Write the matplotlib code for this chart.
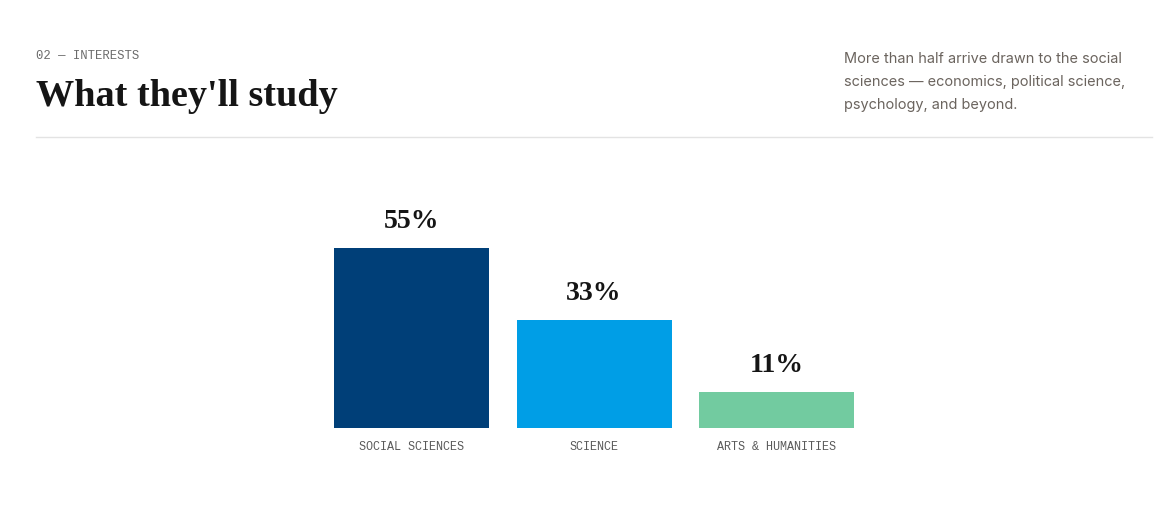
import matplotlib
matplotlib.use("Agg")
import matplotlib.pyplot as plt
from matplotlib.lines import Line2D

categories = ["SOCIAL SCIENCES", "SCIENCE", "ARTS & HUMANITIES"]
values = [55, 33, 11]
value_labels = ["55%", "33%", "11%"]
colors = ["#003f78", "#009ee6", "#72cba0"]

eyebrow = "02 — INTERESTS"
title = "What they'll study"
description = ["More than half arrive drawn to the social",
               "sciences — economics, political science,",
               "psychology, and beyond."]

W, H = 1162, 515
fig = plt.figure(figsize=(W / 100, H / 100), dpi=100)
fig.patch.set_facecolor("white")

def fx(px):
    return px / W

def fy(py):
    return 1 - py / H

# header
fig.text(fx(36), fy(56), eyebrow, family="Liberation Mono", fontsize=8.8,
         color="#6b6b6b", va="center", ha="left")
fig.text(fx(36), fy(106), title, family="Liberation Serif", fontweight="bold",
         fontsize=27.5, color="#151515", va="baseline", ha="left")
for i, line in enumerate(description):
    fig.text(fx(844), fy(63 + 23 * i), line, family="Inter", fontsize=10.45,
             color="#6b645e", va="baseline", ha="left")
fig.add_artist(Line2D([fx(36), fx(1152)], [fy(137), fy(137)],
                      transform=fig.transFigure, color="#e3e3e3", lw=1))

# chart axes: bar centres at 411.5, 594, 776.5 px; baseline at 428 px
pitch = 182.5
c0 = 411.5
ax = fig.add_axes([0, (H - 428) / H, 1, 288 / H])
ax.set_xlim(-c0 / pitch, (W - c0) / pitch)
ax.set_ylim(0, 288 / (180 / 55))
ax.axis("off")

xs = list(range(len(categories)))
ax.bar(xs, values, width=155 / pitch, color=colors, linewidth=0)
for x, v, lab in zip(xs, values, value_labels):
    ax.annotate(lab, (x, v), xytext=(0, 19), textcoords="offset points",
                ha="center", va="center", family="Liberation Serif",
                fontweight="bold", fontsize=20, color="#151515")
    ax.annotate(categories[x], (x, 0), xytext=(0, -14), textcoords="offset points",
                ha="center", va="center", family="Liberation Mono",
                fontsize=8.5, color="#5a5a5a")

fig.savefig("out.png", dpi=100, facecolor="white")
